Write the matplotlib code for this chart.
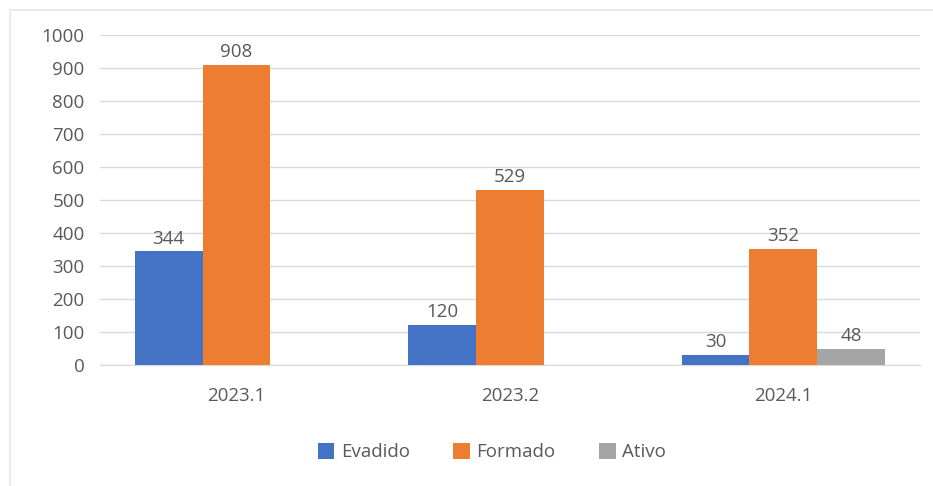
import numpy as np
import matplotlib.pyplot as plt
from matplotlib.patches import Rectangle

periodos = ["2023.1", "2023.2", "2024.1"]
evadido = [344, 120, 30]
formado = [908, 529, 352]
ativo = [np.nan, np.nan, 48]

cores = {"Evadido": "#4472C4", "Formado": "#ED7D31", "Ativo": "#A5A5A5"}
texto = "#595959"

plt.rcParams['font.family'] = ['Open Sans', 'DejaVu Sans']

fig = plt.figure(figsize=(9.33, 4.86), dpi=100)
ax = fig.add_axes([0.107, 0.249, 0.879, 0.679])

# moldura clara do grafico
fig.patches.append(Rectangle((0.011, -0.05), 1.5, 1.03, transform=fig.transFigure,
                             fill=False, edgecolor="#E6E6E6", linewidth=1.2))

x = np.arange(len(periodos))
w = 0.248
series = [("Evadido", evadido, -w), ("Formado", formado, 0), ("Ativo", ativo, w)]
for nome, vals, off in series:
    bars = ax.bar(x + off, vals, width=w, color=cores[nome], label=nome, zorder=3)
    for b, v in zip(bars, vals):
        if np.isnan(v):
            continue
        ax.text(b.get_x() + b.get_width() / 2, v + 12, str(v), ha="center", va="bottom",
                fontsize=13.5, color=texto)

ax.set_xlim(-0.5, 2.5)
ax.set_ylim(0, 1000)
ax.set_yticks(range(0, 1001, 100))
ax.set_xticks(x)
ax.set_xticklabels(periodos)
ax.grid(axis="y", color="#D9D9D9", linewidth=1, zorder=0)
for s in ax.spines.values():
    s.set_visible(False)
ax.spines["bottom"].set_visible(True)
ax.spines["bottom"].set_color("#D9D9D9")
ax.tick_params(axis="both", length=0, labelsize=13.5, colors=texto)
ax.tick_params(axis="y", pad=11)
ax.tick_params(axis="x", pad=16)

ax.legend(loc="center", bbox_to_anchor=(0.478, -0.264), ncol=3, frameon=False,
          fontsize=13.5, labelcolor=texto, handlelength=0.9, handleheight=0.9,
          handletextpad=0.35, columnspacing=2.3)

plt.savefig("out.png", dpi=100)
